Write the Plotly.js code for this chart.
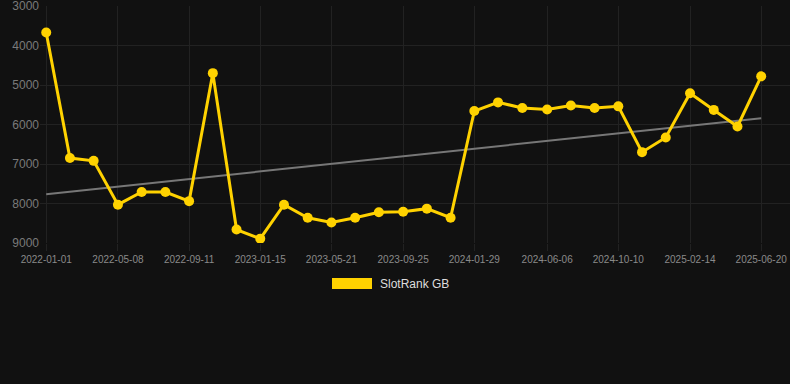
<!DOCTYPE html>
<html><head><meta charset="utf-8">
<script src="https://cdn.plot.ly/plotly-3.0.1.min.js"></script>
<style>html,body{margin:0;padding:0;background:#111111;}#chart{width:790px;height:384px;}</style>
</head><body><div id="chart"></div>
<script>
const dates = ["2022-01-01","2022-02-12","2022-03-26","2022-05-08","2022-06-19","2022-07-31","2022-09-11","2022-10-23","2022-12-04","2023-01-15","2023-02-26","2023-04-09","2023-05-21","2023-07-02","2023-08-13","2023-09-25","2023-11-06","2023-12-18","2024-01-29","2024-03-11","2024-04-23","2024-06-06","2024-07-18","2024-08-29","2024-10-10","2024-11-21","2025-01-02","2025-02-14","2025-03-28","2025-05-09","2025-06-20"];
const ranks = [3670,6850,6920,8030,7710,7710,7940,4700,8660,8890,8030,8360,8480,8360,8220,8210,8130,8360,5660,5440,5580,5620,5520,5580,5540,6700,6330,5210,5630,6050,4780];
const tickDates = ["2022-01-01","2022-05-08","2022-09-11","2023-01-15","2023-05-21","2023-09-25","2024-01-29","2024-06-06","2024-10-10","2025-02-14","2025-06-20"];
const yTicks = [3000,4000,5000,6000,7000,8000,9000];
const seriesName = "SlotRank GB";

// least-squares trend over point index
const n = ranks.length;
let sx=0, sy=0, sxx=0, sxy=0;
for (let i=0;i<n;i++){ sx+=i; sy+=ranks[i]; sxx+=i*i; sxy+=i*ranks[i]; }
const slope = (n*sxy - sx*sy)/(n*sxx - sx*sx);
const icpt = (sy - slope*sx)/n;
const trendX = [dates[0], dates[n-1]];
const trendY = [icpt, icpt + slope*(n-1)];

const gold = "#FFD200";
const traces = [
  {x: trendX, y: trendY, mode: "lines", line: {color: "#777777", width: 2}, hoverinfo: "skip", showlegend: false},
  {x: dates, y: ranks, mode: "lines+markers", name: seriesName,
   line: {color: gold, width: 3}, marker: {color: gold, size: 10}, showlegend: false}
];
const layout = {
  width: 790, height: 384,
  paper_bgcolor: "#111111", plot_bgcolor: "#111111",
  margin: {l: 40, r: 0, t: 6, b: 141},
  font: {family: "Liberation Sans, Arial, sans-serif", color: "#888888"},
  xaxis: {type: "date", range: ["2021-12-21", "2025-08-10"],
    tickvals: tickDates, ticktext: tickDates, tickfont: {size: 10, color: "#8a8a8a"},
    showgrid: true, gridcolor: "#222222", gridwidth: 1, zeroline: false,
    ticks: "outside", ticklen: 7, tickcolor: "#222222", showline: false},
  yaxis: {range: [9000, 2999.5], tickvals: yTicks, tickfont: {size: 12, color: "#7a7a7a"},
    ticklabeloverflow: "allow",
    showgrid: true, gridcolor: "#222222", gridwidth: 1, zeroline: false, ticks: "", showline: false},
  shapes: [{type: "rect", xref: "paper", yref: "paper", x0: (332-40)/750, x1: (372-40)/750,
    y0: (384-141-289)/237, y1: (384-141-278)/237, fillcolor: gold, line: {width: 0}}],
  annotations: [{xref: "paper", yref: "paper", x: (378-40)/750, y: (384-141-284)/237,
    xanchor: "left", yanchor: "middle", text: seriesName, showarrow: false,
    font: {size: 12, color: "#dddddd"}}]
};
Plotly.newPlot("chart", traces, layout, {displayModeBar: false, staticPlot: true});
</script></body></html>
